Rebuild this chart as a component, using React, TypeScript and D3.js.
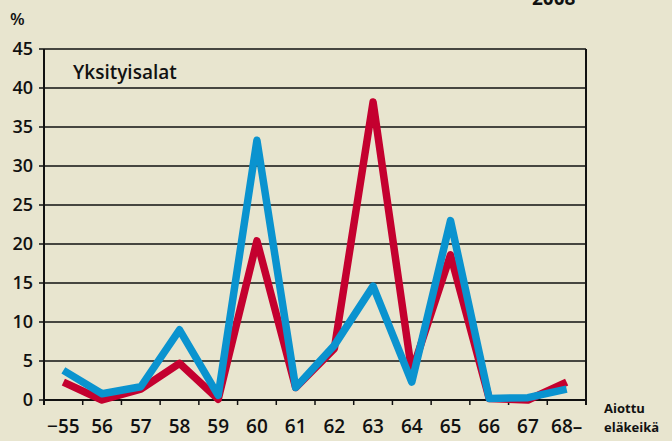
import * as React from 'react'
import * as d3 from 'd3'

const ages = ['−55', '56', '57', '58', '59', '60', '61', '62', '63', '64', '65', '66', '67', '68–']
const red = [2.3, 0, 1.4, 4.7, 0.1, 20.4, 1.6, 6.6, 38.2, 3.6, 18.6, 0.2, 0, 2.3]
const blue = [3.8, 0.8, 1.7, 9, 0.6, 33.3, 1.6, 7, 14.6, 2.3, 23, 0.2, 0.3, 1.4]
const yTicks = [0, 5, 10, 15, 20, 25, 30, 35, 40, 45]

const W = 672
const H = 441
const margin = { left: 44, right: 86, top: 49, bottom: 41 }
const font = '"Open Sans", Lato, sans-serif'

export default function App () {
    const x = d3.scaleBand<string>().domain(ages).range([margin.left, W - margin.right])
    const y = d3.scaleLinear().domain([0, 45]).range([H - margin.bottom, margin.top])
    const cx = (d: string) => (x(d) ?? 0) + x.bandwidth() / 2
    const line = d3.line<number>().x((_, i) => cx(ages[i])).y(v => y(v))

    return <svg width={W} height={H} style={{ position: 'fixed', left: 0, top: 0, background: '#e8e5cf' }}>
        <rect width={W} height={H} fill='#e8e5cf' />
        <text x={532} y={5} fontFamily={font} fontWeight={700} fontSize={19} fill='#111'>2008</text>
        <text x={10} y={25} fontFamily={font} fontWeight={600} fontSize={17} fill='#111'>%</text>
        {yTicks.map(t => <g key={t}>
            <line x1={margin.left} x2={W - margin.right} y1={y(t)} y2={y(t)} stroke='#111' strokeWidth={1.5} />
            <line x1={margin.left - 5} x2={margin.left} y1={y(t)} y2={y(t)} stroke='#111' strokeWidth={1.5} />
            <text x={33} y={y(t)} dy='0.35em' textAnchor='end' fontFamily={font} fontWeight={600} fontSize={18} fill='#111'>{t}</text>
        </g>)}
        <line x1={margin.left} x2={margin.left} y1={y(45)} y2={y(0) + 5} stroke='#111' strokeWidth={2} />
        <line x1={W - margin.right} x2={W - margin.right} y1={y(45)} y2={y(0) + 5} stroke='#111' strokeWidth={2} />
        <line x1={margin.left} x2={W - margin.right} y1={y(0)} y2={y(0)} stroke='#111' strokeWidth={2} />
        {ages.map(a => <g key={a}>
            <line x1={x(a)} x2={x(a)} y1={y(0)} y2={y(0) + 5} stroke='#111' strokeWidth={1.5} />
            <text x={cx(a)} y={433} textAnchor='middle' fontFamily={font} fontWeight={600} fontSize={19} fill='#111'>{a}</text>
        </g>)}
        <text x={73} y={79} fontFamily={font} fontWeight={600} fontSize={19} fill='#111'>Yksityisalat</text>
        <text x={604} y={413} fontFamily={font} fontWeight={700} fontSize={13} fill='#111'>Aiottu</text>
        <text x={604} y={432} fontFamily={font} fontWeight={700} fontSize={13} fill='#111'>eläkeikä</text>
        <path d={line(red) ?? ''} fill='none' stroke='#c4002f' strokeWidth={7.5} strokeLinejoin='round' />
        <path d={line(blue) ?? ''} fill='none' stroke='#0a93cf' strokeWidth={7.5} strokeLinejoin='round' />
    </svg>
}
